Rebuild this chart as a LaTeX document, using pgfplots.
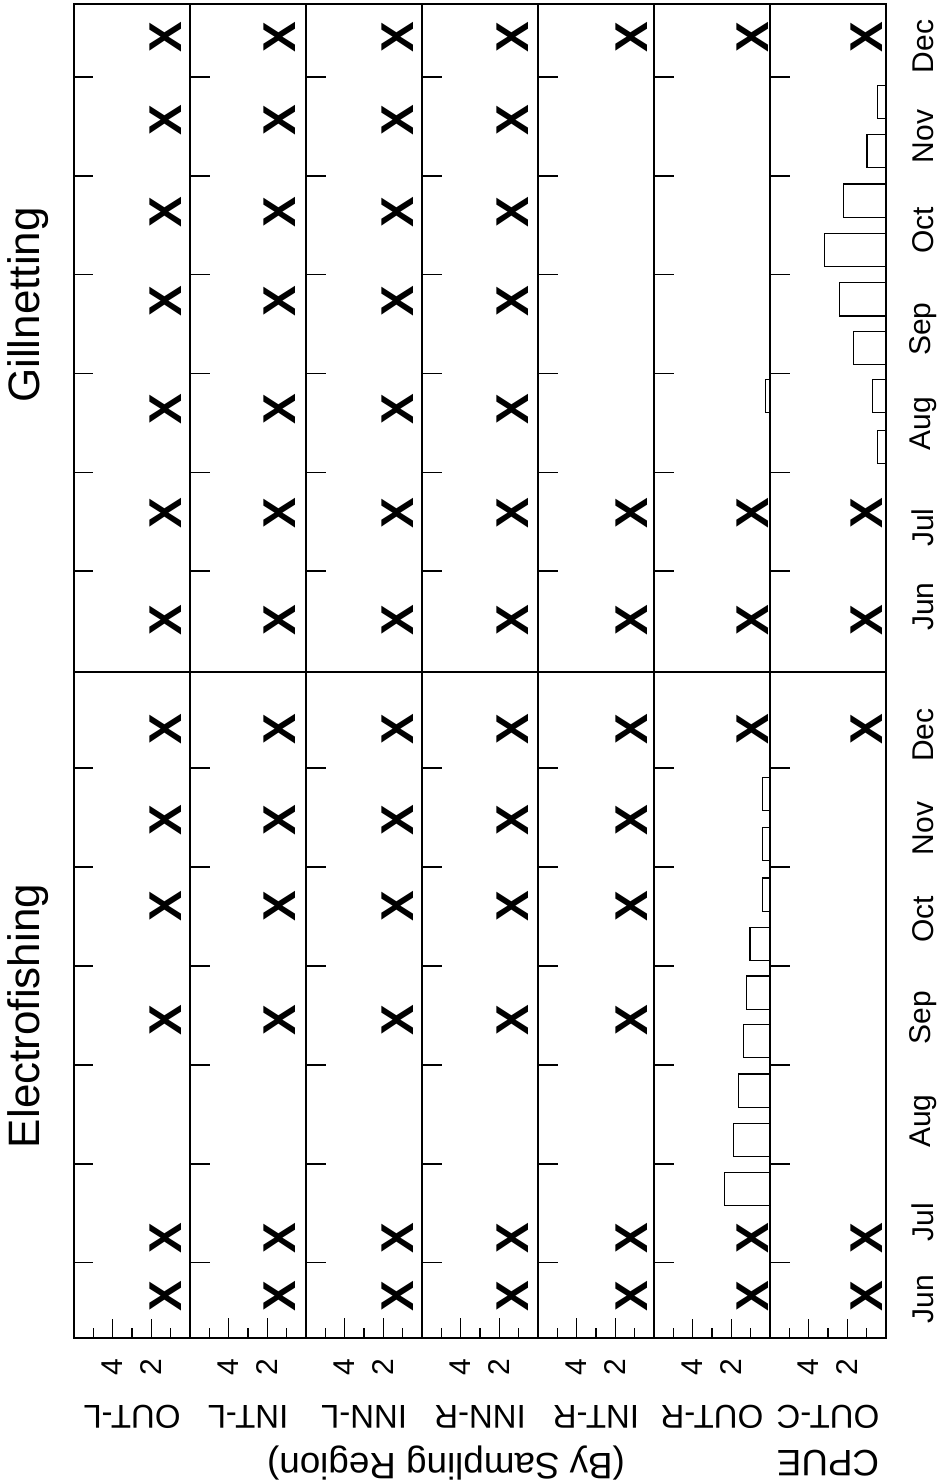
\documentclass[border=0pt]{standalone}
\usepackage{pgfplots}
\pgfplotsset{compat=1.18}
\usepackage{fontspec}
\setmainfont{Liberation Sans}
\newcommand\fs[1]{\fontsize{#1}{#1}\selectfont}
\pgfplotsset{
 base/.style={scale only axis, width=58pt, xmin=0, xmax=6, x dir=reverse, anchor=south west, clip=false,
   axis line style={line width=0.6pt}, ytick={1,2,3,4,5,6}, yticklabels={,,,,,}, ytick pos=left,
   major tick length=9.75pt, minor tick length=5pt, tick style={line width=0.7pt, black},
   /pgf/number format/assume math mode=true},
 el/.style={base, height=333pt, ymin=0.24, ymax=6.97, xtick={2,4}, minor xtick={1,3,5}, xtick pos=left,
   xticklabel style={yshift=-14.5pt, rotate=90, anchor=center, font=\fs{15}},
   xlabel style={at={(axis description cs:0.5,0)}, yshift=-39.5pt, rotate=180, anchor=center, font=\fs{16.5}}},
 gn/.style={base, height=334pt, ymin=-0.02, ymax=6.74, xtick=\empty},
 monthlab/.style={extra y ticks={#1}, extra y tick labels={Jun,Jul,Aug,Sep,Oct,Nov,Dec},
   extra y tick style={tick style={draw=none}, yticklabel style={xshift=76.5pt, rotate=90, anchor=center, font=\fs{15}}}},
 xm/.style={only marks, mark=text, text mark={X}, text mark as node=true,
   text mark style={font=\fs{23}\bfseries, rotate=90, inner sep=0pt}},
 br/.style={xbar, bar width=0.335, fill=white, draw=black, line width=0.6pt},
}
\begin{document}
\begin{tikzpicture}
\path[use as bounding box] (0,0) rectangle (472pt,742pt);
% ---------------- Electrofishing ----------------
\begin{axis}[el, at={(37pt,73pt)}, xlabel={OUT-L}]
\addplot[xm] coordinates {(1.26,0.66) (1.26,1.25) (1.26,3.45) (1.26,4.6) (1.26,5.47) (1.26,6.39)};
\end{axis}
\begin{axis}[el, at={(95pt,73pt)}, xlabel={INT-L}]
\addplot[xm] coordinates {(1.35,0.66) (1.35,1.25) (1.35,3.45) (1.35,4.6) (1.35,5.47) (1.35,6.39)};
\end{axis}
\begin{axis}[el, at={(153pt,73pt)}, xlabel={INN-L}]
\addplot[xm] coordinates {(1.25,0.66) (1.25,1.25) (1.25,3.45) (1.25,4.6) (1.25,5.47) (1.25,6.39)};
\end{axis}
\begin{axis}[el, at={(211pt,73pt)}, xlabel={INN-R}]
\addplot[xm] coordinates {(1.3,0.66) (1.3,1.25) (1.3,3.45) (1.3,4.6) (1.3,5.47) (1.3,6.39)};
\end{axis}
\begin{axis}[el, at={(269pt,73pt)}, xlabel={INT-R}]
\addplot[xm] coordinates {(1.15,0.66) (1.15,1.25) (1.15,3.45) (1.15,4.6) (1.15,5.47) (1.15,6.39)};
\end{axis}
\begin{axis}[el, at={(327pt,73pt)}, xlabel={OUT-R}]
\addplot[br] coordinates {(2.37,1.747) (1.9,2.24) (1.65,2.74) (1.37,3.24) (1.2,3.73) (1.03,4.22) (0.39,4.72) (0.39,5.23) (0.39,5.74)};
\addplot[xm] coordinates {(0.9,0.66) (0.9,1.25) (0.9,6.39)};
\end{axis}
\begin{axis}[el, at={(385pt,73pt)}, xlabel={OUT-C}, monthlab={0.63,1.41,2.43,3.48,4.47,5.39,6.33}]
\addplot[xm] coordinates {(1.0,0.66) (1.0,1.25) (1.0,6.39)};
\end{axis}
% ---------------- Gillnetting ----------------
\begin{axis}[gn, at={(37pt,406pt)}]
\addplot[xm] coordinates {(1.26,0.5) (1.26,1.59) (1.26,2.64) (1.26,3.73) (1.26,4.63) (1.26,5.56) (1.26,6.4)};
\end{axis}
\begin{axis}[gn, at={(95pt,406pt)}]
\addplot[xm] coordinates {(1.35,0.5) (1.35,1.59) (1.35,2.64) (1.35,3.73) (1.35,4.63) (1.35,5.56) (1.35,6.4)};
\end{axis}
\begin{axis}[gn, at={(153pt,406pt)}]
\addplot[xm] coordinates {(1.25,0.5) (1.25,1.59) (1.25,2.64) (1.25,3.73) (1.25,4.63) (1.25,5.56) (1.25,6.4)};
\end{axis}
\begin{axis}[gn, at={(211pt,406pt)}]
\addplot[xm] coordinates {(1.3,0.5) (1.3,1.59) (1.3,2.64) (1.3,3.73) (1.3,4.63) (1.3,5.56) (1.3,6.4)};
\end{axis}
\begin{axis}[gn, at={(269pt,406pt)}]
\addplot[xm] coordinates {(1.15,0.5) (1.15,1.59) (1.15,6.4)};
\end{axis}
\begin{axis}[gn, at={(327pt,406pt)}]
\addplot[br] coordinates {(0.25,2.77)};
\addplot[xm] coordinates {(0.9,0.5) (0.9,1.59) (0.9,6.4)};
\end{axis}
\begin{axis}[gn, at={(385pt,406pt)}, monthlab={0.64,1.44,2.49,3.45,4.45,5.4,6.31}]
\addplot[br] coordinates {(0.43,2.26) (0.69,2.77) (1.67,3.26) (2.4,3.75) (3.18,4.25) (2.18,4.75) (0.98,5.25) (0.43,5.75)};
\addplot[xm] coordinates {(1.0,0.5) (1.0,1.59) (1.0,6.4)};
\end{axis}
% outer frame and panel divider
\draw[line width=1.1pt] (37pt,73pt) rectangle (443pt,740pt);
\draw[line width=1.1pt] (37pt,406pt) -- (443pt,406pt);
% titles and common label
\node[rotate=90, font=\fs{22}] at (14pt,234pt) {Electrofishing};
\node[rotate=90, font=\fs{22}] at (14pt,589.5pt) {Gillnetting};
\node[rotate=180, font=\fs{18.4}] at (414pt,10.5pt) {CPUE};
\node[rotate=180, font=\fs{18.4}] at (223pt,10.5pt) {(By Sampling Region)};
\end{tikzpicture}
\end{document}
